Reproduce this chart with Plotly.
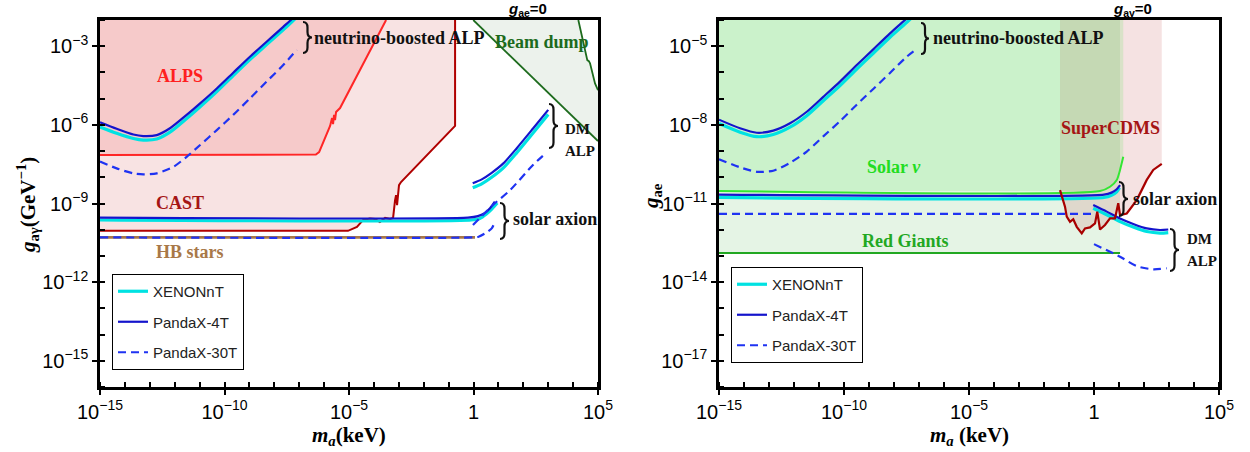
import plotly.graph_objects as go

W, H = 1250, 452

# ================= LEFT PANEL  (g_ae = 0) : g_agamma vs m_a =================
# neutrino-boosted ALP sensitivities
nbL_mass = [1.0e-15, 4.68e-15, 2.19e-14, 5.50e-14, 1.91e-13, 6.46e-13, 3.02e-12, 1.05e-11,
            4.90e-11, 2.24e-10, 1.05e-9, 4.90e-9, 2.29e-8, 4.27e-8, 7.0e-8]
nbL_p4 = [1.26e-6, 7.08e-7, 4.27e-7, 3.72e-7, 4.07e-7, 7.41e-7, 2.40e-6, 6.61e-6,
          2.45e-5, 9.77e-5, 3.98e-4, 1.48e-3, 5.50e-3, 9.33e-3, 1.48e-2]
nbL_xe = [8.32e-7, 4.79e-7, 3.02e-7, 2.63e-7, 2.88e-7, 5.25e-7, 1.74e-6, 4.90e-6,
          1.86e-5, 7.59e-5, 3.09e-4, 1.15e-3, 4.27e-3, 7.24e-3, 1.15e-2]
nbL_p30_mass = [1.0e-15, 4.68e-15, 2.19e-14, 5.50e-14, 1.91e-13, 8.91e-13, 3.02e-12, 1.05e-11,
                4.90e-11, 2.24e-10, 1.05e-9, 4.90e-9, 2.29e-8, 7.94e-8]
nbL_p30 = [3.98e-8, 2.19e-8, 1.41e-8, 1.29e-8, 1.41e-8, 2.51e-8, 6.03e-8, 1.70e-7,
           6.31e-7, 2.40e-6, 1.02e-5, 4.47e-5, 1.91e-4, 7.24e-4]

# solar axion sensitivities
solL_p4_mass = [1e-15, 0.6, 1.5, 2.8, 4.6, 7.2]
solL_p4 = [2.9e-10, 2.9e-10, 3.3e-10, 4.3e-10, 6.6e-10, 1.17e-9]
solL_xe_mass = [1e-15, 0.8, 1.8, 3.2, 5.5, 9.0]
solL_xe = [2.35e-10, 2.35e-10, 2.7e-10, 3.9e-10, 6.3e-10, 1.05e-9]
solL_p30_mass = [1e-15, 1.0, 1.6, 2.9, 5.4, 7.2]
solL_p30 = [5.1e-11, 5.1e-11, 5.4e-11, 7.2e-11, 1.12e-10, 2.0e-10]

# DM ALP sensitivities
dmL_mass = [0.93, 2.14, 5.37, 15.8, 53.7, 251, 1000]
dmL_p4 = [5.89e-9, 8.32e-9, 1.48e-8, 3.39e-8, 1.26e-7, 7.41e-7, 3.72e-6]
dmL_xe = [3.98e-9, 5.62e-9, 1.0e-8, 2.29e-8, 8.51e-8, 5.01e-7, 2.51e-6]
dmL_p30_mass = [0.95, 6.03, 29.5, 245, 891]
dmL_p30 = [1.51e-10, 8.71e-10, 3.24e-9, 2.95e-8, 9.12e-8]

# existing bounds
cast_mass = [1e-15, 9.1e-6, 2.09e-5, 3.63e-5, 6.92e-5, 1.10e-4, 1.74e-4, 2.82e-4, 4.47e-4,
             5.89e-4, 7.08e-4, 7.76e-4, 8.51e-4, 9.33e-4, 1.02e-3, 1.23e-3, 0.182, 0.182]
cast_g = [9.1e-11, 9.1e-11, 1.29e-10, 2.34e-10, 2.69e-10, 2.57e-10, 1.95e-10, 2.82e-10, 2.57e-10,
          2.82e-10, 1.35e-9, 2.09e-9, 8.71e-10, 2.75e-9, 5.01e-9, 6.61e-9, 9.12e-7, 1e-1]
alps_mass = [1e-15, 3.55e-7, 4.68e-7, 6.31e-7, 8.32e-7, 1.10e-6, 1.45e-6, 1.74e-6, 2.09e-6,
             2.29e-6, 2.51e-6, 2.75e-6, 3.02e-6, 4.37e-6, 3.09e-4]
alps_g = [7.1e-8, 7.1e-8, 7.4e-8, 9.1e-8, 1.70e-7, 3.47e-7, 6.31e-7, 9.12e-7, 1.82e-6,
          1.07e-6, 2.40e-6, 1.51e-6, 3.09e-6, 4.37e-6, 1e-2]
hb_mass = [1e-15, 1.15]
hb_g = [5.1e-11, 5.1e-11]
bd_low_mass = [0.977, 1.0e5]
bd_low_g = [1.0e-2, 2.4e-7]
bd_high_mass = [1.62e4, 3.72e4, 4.3e4, 4.79e4, 7.59e4, 1.0e5]
bd_high_g = [1.0e-2, 2.95e-4, 2.7e-4, 2.24e-4, 3.80e-5, 2.1e-5]

# ================= RIGHT PANEL (g_agamma = 0) : g_ae vs m_a =================
nbR_mass = [1.0e-15, 6.92e-15, 3.24e-14, 1.48e-13, 6.92e-13, 3.24e-12, 1.48e-11,
            6.92e-11, 3.24e-10, 1.48e-9, 6.92e-9, 3.24e-8, 5.0e-8]
nbR_p4 = [1.58e-8, 7.41e-9, 5.01e-9, 6.03e-9, 1.15e-8, 3.16e-8, 1.17e-7,
          4.47e-7, 1.91e-6, 7.59e-6, 3.09e-5, 1.15e-4, 1.7e-4]
nbR_xe = [1.12e-8, 5.25e-9, 3.55e-9, 4.27e-9, 8.13e-9, 2.24e-8, 8.32e-8,
          3.16e-7, 1.35e-6, 5.37e-6, 2.19e-5, 8.13e-5, 1.2e-4]
nbR_p30_mass = [1.0e-15, 6.92e-15, 3.24e-14, 1.48e-13, 6.92e-13, 3.24e-12, 1.48e-11,
                6.92e-11, 3.24e-10, 1.48e-9, 6.92e-9, 3.24e-8, 8.1e-8]
nbR_p30 = [4.9e-10, 2.4e-10, 1.62e-10, 1.78e-10, 3.55e-10, 9.55e-10, 3.63e-9,
           1.38e-8, 5.89e-8, 2.34e-7, 9.55e-7, 3.98e-6, 7.8e-6]

solR_p4_mass = [1e-15, 2.5, 5.0, 8.1, 11.0]
solR_p4 = [2.19e-11, 2.19e-11, 2.6e-11, 3.5e-11, 5.0e-11]
solR_xe_mass = [1e-15, 2.5, 5.0, 8.1, 10.5]
solR_xe = [1.7e-11, 1.7e-11, 2.05e-11, 2.8e-11, 4.0e-11]
solR_p30_mass = [1e-15, 1.0]
solR_p30 = [4.0e-12, 4.0e-12]

dmR_mass = [0.93, 3.24, 11.0, 37.2, 129, 437, 933]
dmR_p4 = [8.71e-12, 4.90e-12, 2.69e-12, 1.66e-12, 1.12e-12, 9.77e-13, 1.02e-12]
dmR_xe = [6.61e-12, 3.72e-12, 2.04e-12, 1.26e-12, 8.51e-13, 7.41e-13, 7.76e-13]
dmR_p30_mass = [1.0, 11.0, 51.3, 234, 813]
dmR_p30 = [2.82e-13, 9.33e-14, 4.07e-14, 3.09e-14, 3.39e-14]

solnu_mass = [1e-15, 1.74, 4.37, 8.13, 11.0, 14.8]
solnu_g = [3.0e-11, 3.0e-11, 4.37e-11, 7.94e-11, 1.91e-10, 6.03e-10]
rg_mass = [1e-15, 11.0]
rg_g = [1.3e-13, 1.3e-13]
cdms_mass = [0.0437, 0.0692, 0.0813, 0.110, 0.148, 0.204, 0.324, 0.437, 0.692, 1.10, 1.35,
             1.74, 2.75, 4.37, 6.92, 9.33, 11.0, 20.4, 51.3, 129, 234, 513]
cdms_g = [3.24e-11, 7.59e-12, 3.16e-12, 2.0e-12, 2.51e-12, 1.29e-12, 7.24e-13, 1.12e-12, 1.23e-12,
          1.74e-12, 4.90e-12, 1.02e-12, 1.51e-12, 2.69e-12, 2.69e-12, 1.02e-11, 3.63e-12, 4.17e-12,
          1.35e-11, 7.94e-11, 1.91e-10, 3.24e-10]

# tick labels
x_tickvals = [1e-15, 1e-10, 1e-5, 1, 1e5]
x_ticktext = ["10<sup>−15</sup>", "10<sup>−10</sup>", "10<sup>−5</sup>", "1", "10<sup>5</sup>"]
yL_tickvals = [1e-3, 1e-6, 1e-9, 1e-12, 1e-15]
yL_ticktext = ["10<sup>−3</sup>", "10<sup>−6</sup>", "10<sup>−9</sup>", "10<sup>−12</sup>", "10<sup>−15</sup>"]
yR_tickvals = [1e-5, 1e-8, 1e-11, 1e-14, 1e-17]
yR_ticktext = ["10<sup>−5</sup>", "10<sup>−8</sup>", "10<sup>−11</sup>", "10<sup>−14</sup>", "10<sup>−17</sup>"]

# ---------------------------------------------------------------------------
CYAN = "#00e2e2"
BLUE = "#1414cc"
DBLUE = "#1f33f2"
SERIF = "Liberation Serif"
SANS = "Liberation Sans"
TOP = 1e-1   # beyond plot top (clipped)
LEFT = 1e-16  # beyond plot left (clipped)

fig = go.Figure()


def axes(p):
    return ("x", "y") if p == 1 else ("x2", "y2")


def area(x, y, p, color):
    xa, ya = axes(p)
    fig.add_trace(go.Scatter(x=x, y=y, xaxis=xa, yaxis=ya, mode="lines", fill="toself",
                             fillcolor=color, line=dict(width=0), showlegend=False,
                             hoverinfo="skip"))


def line(x, y, p, color, width, dash="solid", spline=False, name=None, group=None, show=False):
    xa, ya = axes(p)
    ln = dict(color=color, width=width, dash=dash)
    if spline:
        ln.update(shape="spline", smoothing=0.7)
    fig.add_trace(go.Scatter(x=x, y=y, xaxis=xa, yaxis=ya, mode="lines", line=ln,
                             name=name, legendgroup=group, showlegend=show,
                             legend="legend" if p == 1 else "legend2", hoverinfo="skip"))


# ---------- left fills ----------
area([LEFT] + cast_mass + [LEFT], [cast_g[0]] + cast_g + [TOP], 1, "rgba(205,60,60,0.14)")
area([LEFT] + alps_mass + [alps_mass[-1], LEFT], [alps_g[0]] + alps_g + [TOP, TOP], 1,
     "rgba(235,60,60,0.15)")
area(bd_low_mass + bd_high_mass[::-1], bd_low_g + bd_high_g[::-1], 1, "rgba(40,110,40,0.09)")
# ---------- left bound lines ----------
line(cast_mass, cast_g, 1, "#b00000", 2)
line(alps_mass, alps_g, 1, "#ff2626", 2)
line(hb_mass, hb_g, 1, "#a87848", 2.6)
line(bd_low_mass, bd_low_g, 1, "#1d6b1d", 1.8)
line(bd_high_mass, bd_high_g, 1, "#1d6b1d", 1.8)

# ---------- right fills ----------
area([LEFT, rg_mass[-1], rg_mass[-1], LEFT], [rg_g[0], rg_g[-1], TOP, TOP], 2, "rgba(0,150,0,0.10)")
area(cdms_mass + [cdms_mass[-1], cdms_mass[0]], cdms_g + [TOP, TOP], 2, "rgba(190,60,60,0.15)")
area([LEFT] + solnu_mass + [solnu_mass[-1], LEFT], [solnu_g[0]] + solnu_g + [TOP, TOP], 2,
     "rgba(0,230,0,0.115)")
line(rg_mass, rg_g, 2, "#22a822", 2)
line(solnu_mass, solnu_g, 2, "#33e633", 2, spline=True)

# ---------- experiment sensitivities ----------
dash = "8px,5px"
# XENONnT
line(nbL_mass, nbL_xe, 1, CYAN, 3.2, spline=True, name="XENONnT", group="xe", show=True)
line(solL_xe_mass, solL_xe, 1, CYAN, 3.2, spline=True, group="xe")
line(dmL_mass, dmL_xe, 1, CYAN, 3.2, spline=True, group="xe")
line(nbR_mass, nbR_xe, 2, CYAN, 3.2, spline=True, name="XENONnT", group="xe2", show=True)
line(solR_xe_mass, solR_xe, 2, CYAN, 3.2, spline=True, group="xe2")
line(dmR_mass, dmR_xe, 2, CYAN, 3.2, spline=True, group="xe2")
# PandaX-4T
line(nbL_mass, nbL_p4, 1, BLUE, 2.2, spline=True, name="PandaX-4T", group="p4", show=True)
line(solL_p4_mass, solL_p4, 1, BLUE, 2.2, spline=True, group="p4")
line(dmL_mass, dmL_p4, 1, BLUE, 2.2, spline=True, group="p4")
line(nbR_mass, nbR_p4, 2, BLUE, 2.2, spline=True, name="PandaX-4T", group="p42", show=True)
line(solR_p4_mass, solR_p4, 2, BLUE, 2.2, spline=True, group="p42")
line(dmR_mass, dmR_p4, 2, BLUE, 2.2, spline=True, group="p42")
# PandaX-30T
line(nbL_p30_mass, nbL_p30, 1, DBLUE, 2.2, dash, spline=True, name="PandaX-30T", group="p30", show=True)
line(solL_p30_mass, solL_p30, 1, DBLUE, 2.2, dash, spline=True, group="p30")
line(dmL_p30_mass, dmL_p30, 1, DBLUE, 2.2, dash, spline=True, group="p30")
line(nbR_p30_mass, nbR_p30, 2, DBLUE, 2.2, dash, spline=True, name="PandaX-30T", group="p302", show=True)
line(solR_p30_mass, solR_p30, 2, DBLUE, 2.2, dash, spline=True, group="p302")
line(dmR_p30_mass, dmR_p30, 2, DBLUE, 2.2, dash, spline=True, group="p302")

# SuperCDMS on top
line(cdms_mass, cdms_g, 2, "#a80000", 2.2)


# ---------- axes ----------
def axis(dom, rng, tv, tt, minor_vals, anchor):
    return dict(type="log", domain=dom, range=rng, anchor=anchor, showgrid=False, zeroline=False,
                showline=True, linecolor="black", linewidth=2.6, mirror=True,
                tickmode="array", tickvals=tv, ticktext=tt, ticks="outside", ticklen=5,
                tickwidth=1.6, tickcolor="black",
                tickfont=dict(family=SANS, size=20, color="black"),
                minor=dict(tickmode="array", tickvals=minor_vals, ticks="inside", ticklen=5,
                           tickwidth=1.6, tickcolor="black"),
                automargin=False)


x_minor = [10.0 ** k for k in range(-15, 6)]
yL_minor = [10.0 ** k for k in range(-16, -1)]
yR_minor = [10.0 ** k for k in range(-18, -3)]
ydom = [1 - 387 / H, 1 - 20 / H]


def X(px):
    return px / W


def Y(py):
    return 1 - py / H


fig.update_layout(
    width=W, height=H, margin=dict(l=0, r=0, t=0, b=0),
    paper_bgcolor="white", plot_bgcolor="white",
    xaxis=axis([X(100), X(598)], [-15, 5], x_tickvals, x_ticktext, x_minor, "y"),
    yaxis=axis(ydom, [-16, -2], yL_tickvals, yL_ticktext, yL_minor, "x"),
    xaxis2=axis([X(719), X(1219)], [-15, 5], x_tickvals, x_ticktext, x_minor, "y2"),
    yaxis2=axis(ydom, [-18, -4], yR_tickvals, yR_ticktext, yR_minor, "x2"),
    legend=dict(x=X(112), y=Y(274), xanchor="left", yanchor="top", bgcolor="white",
                bordercolor="black", borderwidth=1, tracegroupgap=8,
                font=dict(family=SANS, size=15, color="#222")),
    legend2=dict(x=X(731), y=Y(267), xanchor="left", yanchor="top", bgcolor="white",
                 bordercolor="black", borderwidth=1, tracegroupgap=8,
                 font=dict(family=SANS, size=15, color="#222")),
    showlegend=True,
)

ann = []


def label(text, x, y, color, size=18, ref=1, xanchor="center", family=SERIF, angle=0,
          yanchor="middle", yshift=0):
    if ref == 0:
        ann.append(dict(text=text, x=X(x), y=Y(y), xref="paper", yref="paper", showarrow=False,
                        xanchor=xanchor, yanchor=yanchor, textangle=angle, yshift=yshift,
                        font=dict(family=family, size=size, color=color)))
    else:
        xr, yr = ("x", "y") if ref == 1 else ("x2", "y2")
        ann.append(dict(text=text, x=x, y=y, xref=xr, yref=yr, showarrow=False,
                        xanchor=xanchor, yanchor=yanchor,
                        font=dict(family=family, size=size, color=color)))


# region labels (positions in log10 data units)
label("<b>ALPS</b>", -11.79, -4.14, "#ff2020")
label("<b>CAST</b>", -11.79, -8.98, "#a51515")
label("<b>HB stars</b>", -11.39, -10.85, "#a87848")
label("<b>Beam dump</b>", 2.75, -2.84, "#1d6b1d")
label("<b>Solar <i>ν</i></b>", -8.0, -9.61, "#22dd22", ref=2)
label("<b>Red Giants</b>", -7.56, -12.43, "#22a822", ref=2)
label("<b>SuperCDMS</b>", 0.64, -8.12, "#a51515", ref=2)

# bracket labels (page pixel positions)
label("<b>neutrino-boosted ALP</b>", 312, 38, "#111", ref=0, xanchor="left")
label("<b>neutrino-boosted ALP</b>", 931, 38, "#111", ref=0, xanchor="left")
label("<b>solar axion</b>", 511, 219, "#111", ref=0, xanchor="left")
label("<b>solar axion</b>", 1131, 199, "#111", ref=0, xanchor="left")
label("<b>DM</b>", 563, 129, "#111", size=15, ref=0, xanchor="left")
label("<b>ALP</b>", 563, 151, "#111", size=15, ref=0, xanchor="left")
label("<b>DM</b>", 1185, 239, "#111", size=15, ref=0, xanchor="left")
label("<b>ALP</b>", 1185, 261, "#111", size=15, ref=0, xanchor="left")

# titles and axis titles
label("<b><i>g</i><sub>ae</sub>=0</b>", 527, 0, "black", size=15, ref=0, family=SANS,
      yanchor="top", yshift=2)
label("<b><i>g</i><sub>aγ</sub>=0</b>", 1132, 0, "black", size=15, ref=0, family=SANS,
      yanchor="top", yshift=2)
label("<b><i>m</i><sub><i>a</i></sub>(keV)</b>", 349, 436, "black", size=21, ref=0)
label("<b><i>m</i><sub><i>a</i></sub> (keV)</b>", 969, 436, "black", size=21, ref=0)
label("<b><i>g</i><sub>aγ</sub>(GeV<sup>−1</sup>)</b>", 27, 205, "black", size=21, ref=0, angle=-90)
label("<b><i>g</i><sub>ae</sub></b>", 652, 196, "black", size=21, ref=0, angle=-90)

fig.update_layout(annotations=ann)


# curly braces as paper-space paths
def brace(x0, yt, yb, w):
    ym = (yt + yb) / 2
    r = min(w * 0.6, (yb - yt) / 4)
    xm = x0 + w * 0.5
    p = (f"M {X(x0)},{Y(yt)} Q {X(xm)},{Y(yt)} {X(xm)},{Y(yt + r)} "
         f"L {X(xm)},{Y(ym - r)} Q {X(xm)},{Y(ym)} {X(x0 + w)},{Y(ym)} "
         f"Q {X(xm)},{Y(ym)} {X(xm)},{Y(ym + r)} L {X(xm)},{Y(yb - r)} "
         f"Q {X(xm)},{Y(yb)} {X(x0)},{Y(yb)}")
    return dict(type="path", path=p, xref="paper", yref="paper",
                line=dict(color="#111", width=2.2), layer="above")


fig.update_layout(shapes=[
    brace(303, 22, 53, 9), brace(549, 104, 148, 9), brace(500, 203, 239, 9),
    brace(921, 23, 54, 8), brace(1119, 182, 216, 9), brace(1170, 229, 271, 9),
])

fig.write_html("out.html")
